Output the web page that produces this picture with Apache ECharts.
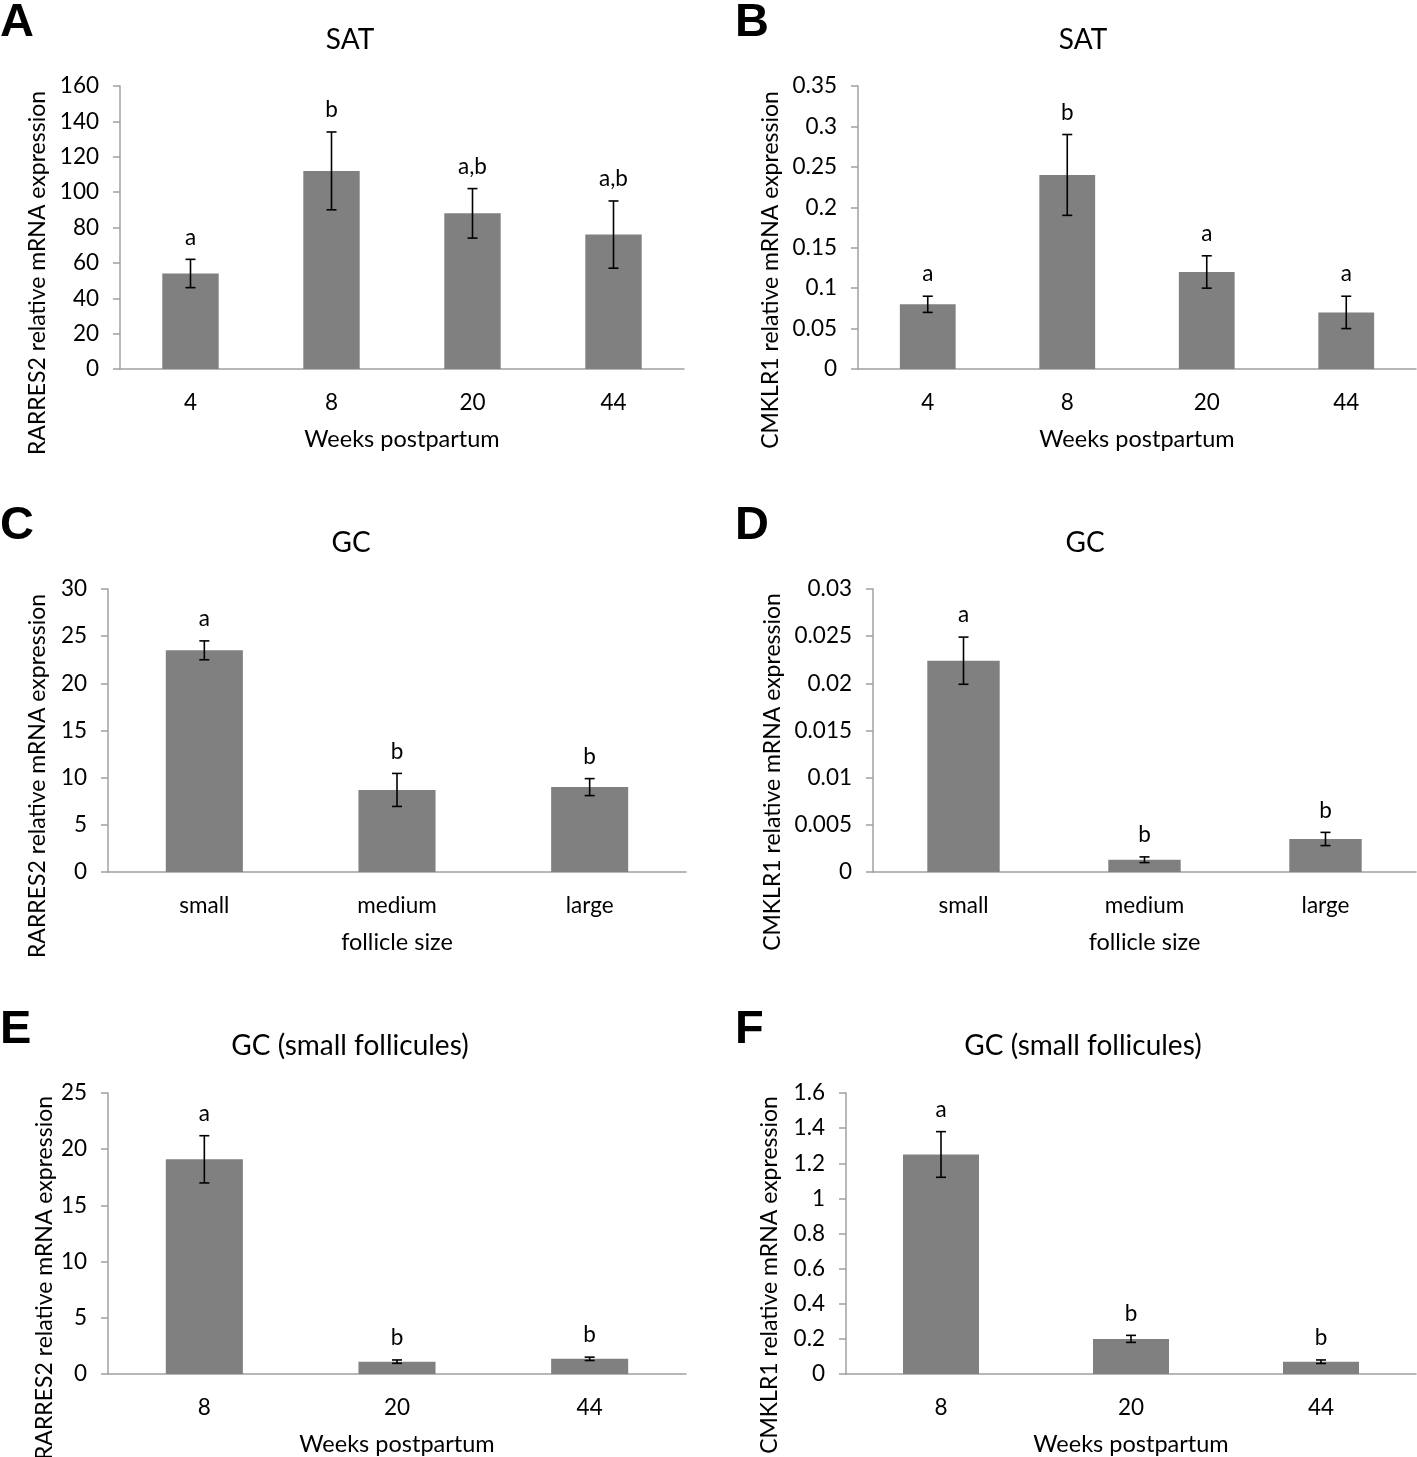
<!DOCTYPE html>
<html>
<head>
<meta charset="utf-8">
<script src="https://cdn.jsdelivr.net/npm/echarts@6/dist/echarts.min.js"></script>
<style>
html,body{margin:0;padding:0;background:#fff;}
#chart{width:1417px;height:1457px;}
</style>
</head>
<body>
<div id="chart"></div>
<script>
// ---- Data ----
const weeks4 = ['4', '8', '20', '44'];
const follicleSizes = ['small', 'medium', 'large'];
const weeks3 = ['8', '20', '44'];

const aMean = [54, 112, 88, 76];
const aErr = [8, 22, 14, 19];
const aLetters = ['a', 'b', 'a,b', 'a,b'];

const bMean = [0.08, 0.24, 0.12, 0.07];
const bErr = [0.01, 0.05, 0.02, 0.02];
const bLetters = ['a', 'b', 'a', 'a'];

const cMean = [23.5, 8.7, 9.0];
const cErr = [1.0, 1.75, 0.9];
const cLetters = ['a', 'b', 'b'];

const dMean = [0.0224, 0.0013, 0.0035];
const dErr = [0.0025, 0.0003, 0.0007];
const dLetters = ['a', 'b', 'b'];

const eMean = [19.1, 1.1, 1.35];
const eErr = [2.1, 0.15, 0.15];
const eLetters = ['a', 'b', 'b'];

const fMean = [1.25, 0.2, 0.07];
const fErr = [0.13, 0.02, 0.01];
const fLetters = ['a', 'b', 'b'];

// ---- Panels ----
const FONT = 'Lato, "Open Sans", sans-serif';
const panels = [
  {key:'A', title:'SAT', cats:weeks4, mean:aMean, err:aErr, letters:aLetters, yMax:160, yInt:20,
   yName:'RARRES2 relative mRNA expression', xName:'Weeks postpartum',
   grid:{left:120, top:86, width:564, height:283}, letterPos:[0,0], titlePos:[350,40], yNamePos:[38,273]},
  {key:'B', title:'SAT', cats:weeks4, mean:bMean, err:bErr, letters:bLetters, yMax:0.35, yInt:0.05,
   yName:'CMKLR1 relative mRNA expression', xName:'Weeks postpartum',
   grid:{left:858, top:86, width:558, height:283}, letterPos:[735,0], titlePos:[1083,40], yNamePos:[771,270]},
  {key:'C', title:'GC', cats:follicleSizes, mean:cMean, err:cErr, letters:cLetters, yMax:30, yInt:5,
   yName:'RARRES2 relative mRNA expression', xName:'follicle size',
   grid:{left:108, top:589, width:578, height:283}, letterPos:[0,503], titlePos:[351,543], yNamePos:[38,776]},
  {key:'D', title:'GC', cats:follicleSizes, mean:dMean, err:dErr, letters:dLetters, yMax:0.03, yInt:0.005,
   yName:'CMKLR1 relative mRNA expression', xName:'follicle size',
   grid:{left:873, top:589, width:543, height:283}, letterPos:[735,503], titlePos:[1085,543], yNamePos:[773,772]},
  {key:'E', title:'GC (small follicules)', cats:weeks3, mean:eMean, err:eErr, letters:eLetters, yMax:25, yInt:5,
   yName:'RARRES2 relative mRNA expression', xName:'Weeks postpartum',
   grid:{left:108, top:1093, width:578, height:282}, letterPos:[0,1007], titlePos:[350,1046], yNamePos:[45,1278]},
  {key:'F', title:'GC (small follicules)', cats:weeks3, mean:fMean, err:fErr, letters:fLetters, yMax:1.6, yInt:0.2,
   yName:'CMKLR1 relative mRNA expression', xName:'Weeks postpartum',
   grid:{left:846, top:1093, width:570, height:282}, letterPos:[735,1007], titlePos:[1083,1046], yNamePos:[770,1275]}
];

const grids = [], xAxes = [], yAxes = [], series = [], graphics = [];

function fmt(v){ return String(+v.toFixed(4)); }

panels.forEach((p, i) => {
  grids.push(Object.assign({containLabel:false}, p.grid));
  xAxes.push({
    type:'category', gridIndex:i, data:p.cats,
    axisLine:{show:true, lineStyle:{color:'#a0a0a0', width:1.5}},
    axisTick:{show:false},
    axisLabel:{color:'#000', fontFamily:FONT, fontSize:22.5, margin:22},
    name:p.xName, nameLocation:'middle', nameGap:58,
    nameTextStyle:{color:'#000', fontFamily:FONT, fontSize:23.5}
  });
  yAxes.push({
    type:'value', gridIndex:i, min:0, max:p.yMax, interval:p.yInt,
    axisLine:{show:true, lineStyle:{color:'#a0a0a0', width:1.5}},
    axisTick:{show:true, length:7, lineStyle:{color:'#a0a0a0', width:1.5}},
    splitLine:{show:false},
    axisLabel:{color:'#000', fontFamily:FONT, fontSize:22.5, margin:21, formatter:fmt}
  });
  series.push({
    type:'bar', xAxisIndex:i, yAxisIndex:i, data:p.mean,
    barCategoryGap:'60%', itemStyle:{color:'#808080'}, silent:true, animation:false
  });
  series.push({
    type:'custom', xAxisIndex:i, yAxisIndex:i, animation:false, silent:true,
    data:p.mean.map((m, j) => [j, m - p.err[j], m + p.err[j]]),
    z:5,
    renderItem:function(params, api){
      const x = api.value(0);
      const lo = api.coord([x, api.value(1)]);
      const hi = api.coord([x, api.value(2)]);
      const cap = 5;
      const st = {stroke:'#000', lineWidth:1.6};
      return {type:'group', children:[
        {type:'line', shape:{x1:hi[0], y1:hi[1], x2:lo[0], y2:lo[1]}, style:st},
        {type:'line', shape:{x1:hi[0]-cap, y1:hi[1], x2:hi[0]+cap, y2:hi[1]}, style:st},
        {type:'line', shape:{x1:lo[0]-cap, y1:lo[1], x2:lo[0]+cap, y2:lo[1]}, style:st},
        {type:'text', x:hi[0], y:hi[1]-22, style:{text:p.letters[params.dataIndex], fill:'#000',
          font:'22.5px ' + FONT, textAlign:'center', textVerticalAlign:'middle'}}
      ]};
    }
  });
  graphics.push({type:'text', left:p.letterPos[0], top:p.letterPos[1],
    style:{text:p.key, fill:'#000', font:'bold 47px "Liberation Sans", Arial, sans-serif'}});
  graphics.push({type:'text', x:p.titlePos[0], y:p.titlePos[1],
    style:{text:p.title, fill:'#000', font:'28px ' + FONT, textAlign:'center', textVerticalAlign:'middle'}});
  graphics.push({type:'text', x:p.yNamePos[0], y:p.yNamePos[1], rotation:Math.PI/2,
    style:{text:p.yName, fill:'#000', font:'23px ' + FONT, textAlign:'center', textVerticalAlign:'middle'}});
});

const chart = echarts.init(document.getElementById('chart'), null, {renderer:'canvas'});
chart.setOption({
  backgroundColor:'#fff',
  animation:false,
  grid:grids, xAxis:xAxes, yAxis:yAxes, series:series, graphic:graphics
});
</script>
</body>
</html>
